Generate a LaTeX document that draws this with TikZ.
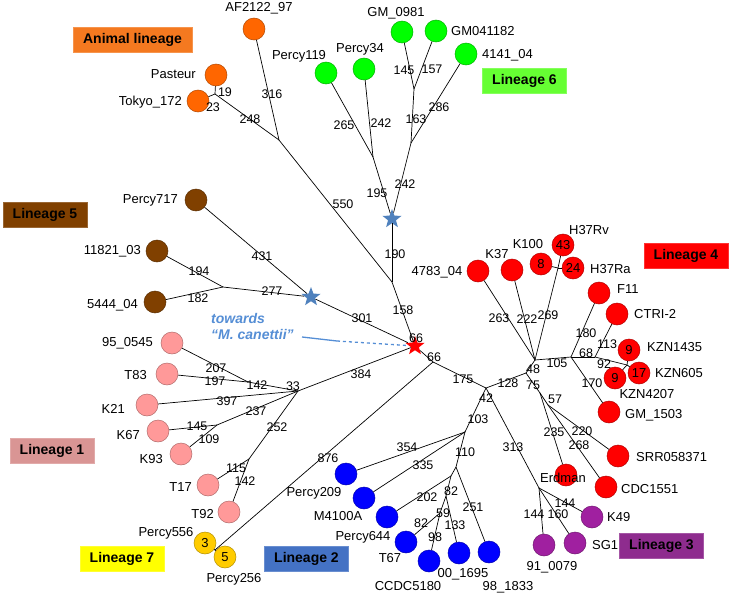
\documentclass[tikz,border=0pt]{standalone}
\usepackage{fontspec}
\setmainfont{Liberation Sans}
\usepackage{tikz}
\usetikzlibrary{shapes.geometric}

\definecolor{animalorange}{HTML}{FF6600}
\definecolor{animalbox}{HTML}{F47920}
\definecolor{sixgreen}{HTML}{00FF00}
\definecolor{sixbox}{HTML}{66FF33}
\definecolor{fivebrown}{HTML}{804000}
\definecolor{onepink}{HTML}{FF9999}
\definecolor{onebox}{HTML}{D99594}
\definecolor{sevenyellow}{HTML}{FFCC00}
\definecolor{sevenbox}{HTML}{FFFF00}
\definecolor{twoblue}{HTML}{0000FF}
\definecolor{twobox}{HTML}{4472C4}
\definecolor{threepurple}{HTML}{A020A0}
\definecolor{threebox}{HTML}{8E2C8E}
\definecolor{fourred}{HTML}{FF0000}
\definecolor{canblue}{HTML}{558ED5}
\definecolor{starblue}{HTML}{4F81BD}

\begin{document}
\begin{tikzpicture}[
    x=1pt, y=-1pt,
    leaf/.style={
        circle,
        draw=#1!70!black,
        fill=#1,
        minimum size=22pt,
        inner sep=0pt,
        line width=0.5pt,
        font=\fontsize{13}{15}\selectfont
    },
    taxon/.style={inner sep=1pt, font=\fontsize{13}{15}\selectfont},
    num/.style={inner sep=0pt, font=\fontsize{12.5}{14}\selectfont},
    lineage/.style={
        rectangle,
        fill=#1,
        draw=#1!80!white,
        minimum width=84pt,
        minimum height=25pt,
        font=\bfseries\fontsize{14}{16}\selectfont
    },
    hub/.style={
        star,
        star points=5,
        star point ratio=2.4,
        minimum size=20pt,
        inner sep=0pt,
        fill=#1
    },
    branch/.style={line width=0.7pt}
]
\useasboundingbox (0,0) rectangle (732,597);

% junctions
\coordinate (jAni) at (215,94);
\coordinate (jAF) at (279,140);
\coordinate (jL6) at (392,282);
\coordinate (jPercy) at (373,157);
\coordinate (jGM) at (414,89);
\coordinate (jGMb) at (411,143);
\coordinate (jL5) at (223,287);
\coordinate (jB) at (433,362);
\coordinate (jC) at (486,388);
\coordinate (jD) at (526,373);
\coordinate (jE) at (535,360);
\coordinate (jF) at (558,268);
\coordinate (jG) at (571,357);
\coordinate (jJ) at (595,357);
\coordinate (jK) at (627,365);
\coordinate (jH) at (540,393);
\coordinate (jI) at (548,405);
\coordinate (jL) at (539,488);
\coordinate (jM) at (465,432);
\coordinate (jN) at (456,467);
\coordinate (jO) at (451,476);
\coordinate (jQ) at (446,496);
\coordinate (jP) at (440,513);
\coordinate (jL1) at (298,391);
\coordinate (jA) at (248,382);
\coordinate (jKK) at (217,425);
\coordinate (jT) at (249,459);
\coordinate (jL7) at (215,550);
\coordinate (canA) at (302,337);
\coordinate (canB) at (337,341);

% stars
\node[hub=fourred] (root) at (415,346) {};
\node[hub=starblue] (starSix) at (392,219) {};
\node[hub=starblue] (starFive) at (311,297) {};

% animal lineage
\node[leaf=animalorange] (af) at (254,29) {};
\node[leaf=animalorange] (pasteur) at (216,75) {};
\node[leaf=animalorange] (tokyo) at (198,101) {};

% lineage 6
\node[leaf=sixgreen] (percy119) at (326,73) {};
\node[leaf=sixgreen] (percy34) at (364,69) {};
\node[leaf=sixgreen] (gm0981) at (402,32) {};
\node[leaf=sixgreen] (gm041182) at (436,31) {};
\node[leaf=sixgreen] (l4141) at (466,54) {};

% lineage 5
\node[leaf=fivebrown] (percy717) at (196,200) {};
\node[leaf=fivebrown] (s11821) at (157,251) {};
\node[leaf=fivebrown] (s5444) at (155,302) {};

% lineage 1
\node[leaf=onepink] (s950545) at (172,343) {};
\node[leaf=onepink] (t83) at (167,374) {};
\node[leaf=onepink] (k21) at (147,405) {};
\node[leaf=onepink] (k67) at (158,431) {};
\node[leaf=onepink] (k93) at (181,454) {};
\node[leaf=onepink] (t17) at (208,485) {};
\node[leaf=onepink] (t92) at (229,512) {};

% lineage 7
\node[leaf=sevenyellow] (percy556) at (205,543) {3};
\node[leaf=sevenyellow] (percy256) at (225,557) {5};

% lineage 2
\node[leaf=twoblue] (percy209) at (346,474) {};
\node[leaf=twoblue] (m4100a) at (364,498) {};
\node[leaf=twoblue] (percy644) at (387,517) {};
\node[leaf=twoblue] (t67) at (406,542) {};
\node[leaf=twoblue] (ccdc) at (429,561) {};
\node[leaf=twoblue] (s001695) at (459,553) {};
\node[leaf=twoblue] (s981833) at (489,552) {};

% lineage 3
\node[leaf=threepurple] (s910079) at (544,545) {};
\node[leaf=threepurple] (sg1) at (575,543) {};
\node[leaf=threepurple] (k49) at (592,517) {};

% lineage 4
\node[leaf=fourred] (s4783) at (478,271) {};
\node[leaf=fourred] (k37) at (512,270) {};
\node[leaf=fourred] (c8) at (541,264) {8};
\node[leaf=fourred] (c24) at (573,268) {24};
\node[leaf=fourred] (c43) at (563,245) {43};
\node[leaf=fourred] (f11) at (599,293) {};
\node[leaf=fourred] (ctri) at (617,314) {};
\node[leaf=fourred] (kzn1435) at (629,350) {9};
\node[leaf=fourred] (kzn4207) at (615,378) {9};
\node[leaf=fourred] (kzn605) at (639,373) {17};
\node[leaf=fourred] (gm1503) at (609,412) {};
\node[leaf=fourred] (srr) at (618,456) {};
\node[leaf=fourred] (cdc) at (606,487) {};
\node[leaf=fourred] (erdman) at (566,475) {};

% branches
\draw[branch] (pasteur) -- (jAni);
\draw[branch] (tokyo) -- (jAni);
\draw[branch] (jAni) -- (jAF);
\draw[branch] (af) -- (jAF);
\draw[branch] (jAF) -- (jL6);
\draw[branch] (gm0981) -- (jGM);
\draw[branch] (gm041182) -- (jGM);
\draw[branch] (jGM) -- (jGMb);
\draw[branch] (l4141) -- (jGMb);
\draw[branch] (jGMb) -- (starSix);
\draw[branch] (percy119) -- (jPercy);
\draw[branch] (percy34) -- (jPercy);
\draw[branch] (jPercy) -- (starSix);
\draw[branch] (starSix) -- (jL6);
\draw[branch] (jL6) -- (root);
\draw[branch] (percy717) -- (starFive);
\draw[branch] (s11821) -- (jL5);
\draw[branch] (s5444) -- (jL5);
\draw[branch] (jL5) -- (starFive);
\draw[branch] (starFive) -- (root);
\draw[branch] (s950545) -- (jA);
\draw[branch] (t83) -- (jA);
\draw[branch] (jA) -- (jL1);
\draw[branch] (k21) -- (jL1);
\draw[branch] (k67) -- (jKK);
\draw[branch] (k93) -- (jKK);
\draw[branch] (jKK) -- (jL1);
\draw[branch] (t17) -- (jT);
\draw[branch] (t92) -- (jT);
\draw[branch] (jT) -- (jL1);
\draw[branch] (jL1) -- (root);
\draw[branch] (percy556) -- (jL7);
\draw[branch] (percy256) -- (jL7);
\draw[branch] (jL7) -- (jB);
\draw[branch] (root) -- (jB);
\draw[branch] (jB) -- (jC);
\draw[branch] (jC) -- (jD);
\draw[branch] (jD) -- (jE);
\draw[branch] (jD) -- (jH);
\draw[branch] (jC) -- (jM);
\draw[branch] (jC) -- (jL);
\draw[branch] (s4783) -- (jE);
\draw[branch] (k37) -- (jE);
\draw[branch] (jE) -- (jF);
\draw[branch] (jF) -- (c8);
\draw[branch] (jF) -- (c24);
\draw[branch] (jF) -- (c43);
\draw[branch] (jE) -- (jG);
\draw[branch] (jG) -- (f11);
\draw[branch] (jG) -- (jJ);
\draw[branch] (jJ) -- (ctri);
\draw[branch] (jJ) -- (jK);
\draw[branch] (jK) -- (kzn1435);
\draw[branch] (jK) -- (kzn605);
\draw[branch] (jK) -- (kzn4207);
\draw[branch] (jG) -- (gm1503);
\draw[branch] (jH) -- (erdman);
\draw[branch] (jH) -- (jI);
\draw[branch] (jI) -- (srr);
\draw[branch] (jI) -- (cdc);
\draw[branch] (jL) -- (k49);
\draw[branch] (jL) -- (sg1);
\draw[branch] (jL) -- (s910079);
\draw[branch] (jM) -- (percy209);
\draw[branch] (jM) -- (m4100a);
\draw[branch] (jM) -- (jN);
\draw[branch] (jN) -- (s981833);
\draw[branch] (jN) -- (jO);
\draw[branch] (jO) -- (percy644);
\draw[branch] (jO) -- (jQ);
\draw[branch] (jQ) -- (s001695);
\draw[branch] (jQ) -- (jP);
\draw[branch] (jP) -- (t67);
\draw[branch] (jP) -- (ccdc);

% towards M. canettii
\draw[canblue, line width=1.3pt] (canA) -- (canB);
\draw[canblue, line width=1.3pt, dashed] (canB) -- (root);
\node[anchor=west, align=left, inner sep=0pt, text=canblue,
    font=\bfseries\itshape\fontsize{14}{16}\selectfont] (canettii) at (211,326)
    {towards\\“M. canettii”};

% taxon names
\node[taxon] (afname) at (259,8) {AF2122\_97};
\node[taxon, anchor=east] (pasteurname) at (197,74) {Pasteur};
\node[taxon, anchor=east] (tokyoname) at (183,102) {Tokyo\_172};
\node[taxon] (percy119name) at (299,56) {Percy119};
\node[taxon] (percy34name) at (360,49) {Percy34};
\node[taxon] (gm0981name) at (396,13) {GM\_0981};
\node[taxon, anchor=west] (gm041182name) at (450,31) {GM041182};
\node[taxon, anchor=west] (l4141name) at (481,55) {4141\_04};
\node[taxon, anchor=east] (percy717name) at (179,200) {Percy717};
\node[taxon, anchor=east] (s11821name) at (142,251) {11821\_03};
\node[taxon, anchor=east] (s5444name) at (139,305) {5444\_04};
\node[taxon, anchor=east] (s950545name) at (154,343) {95\_0545};
\node[taxon, anchor=east] (t83name) at (148,375) {T83};
\node[taxon, anchor=east] (k21name) at (126,409) {K21};
\node[taxon, anchor=east] (k67name) at (141,435) {K67};
\node[taxon, anchor=east] (k93name) at (164,459) {K93};
\node[taxon, anchor=east] (t17name) at (193,487) {T17};
\node[taxon, anchor=east] (t92name) at (215,514) {T92};
\node[taxon] (percy556name) at (166,533) {Percy556};
\node[taxon] (percy256name) at (234,579) {Percy256};
\node[taxon] (percy209name) at (314,493) {Percy209};
\node[taxon] (m4100aname) at (338,516) {M4100A};
\node[taxon] (percy644name) at (363,537) {Percy644};
\node[taxon] (t67name) at (390,558) {T67};
\node[taxon] (ccdcname) at (408,586) {CCDC5180};
\node[taxon] (s001695name) at (463,574) {00\_1695};
\node[taxon] (s981833name) at (508,587) {98\_1833};
\node[taxon] (s910079name) at (552,567) {91\_0079};
\node[taxon, anchor=west] (sg1name) at (591,545) {SG1};
\node[taxon, anchor=west] (k49name) at (606,517) {K49};
\node[taxon] (erdmanname) at (563,478) {Erdman};
\node[taxon, anchor=west] (cdcname) at (620,489) {CDC1551};
\node[taxon, anchor=west] (srrname) at (635,457) {SRR058371};
\node[taxon, anchor=west] (gm1503name) at (624,415) {GM\_1503};
\node[taxon] (kzn4207name) at (647,394) {KZN4207};
\node[taxon, anchor=west] (kzn605name) at (654,373) {KZN605};
\node[taxon, anchor=west] (kzn1435name) at (646,347) {KZN1435};
\node[taxon, anchor=west] (ctriname) at (633,314) {CTRI-2};
\node[taxon, anchor=west] (f11name) at (616,289) {F11};
\node[taxon, anchor=west] (c24name) at (589,269) {H37Ra};
\node[taxon] (c43name) at (589,230) {H37Rv};
\node[taxon] (c8name) at (528,244) {K100};
\node[taxon] (k37name) at (497,254) {K37};
\node[taxon] (s4783name) at (437,272) {4783\_04};

% branch lengths
\node[num] (b19) at (225,92) {19};
\node[num] (b23) at (213,107) {23};
\node[num] (b248) at (250,119) {248};
\node[num] (b316) at (272,94) {316};
\node[num] (b550) at (343,204) {550};
\node[num] (b265) at (344,125) {265};
\node[num] (b242a) at (381,123) {242};
\node[num] (b145a) at (404,70) {145};
\node[num] (b157) at (432,69) {157};
\node[num] (b163) at (416,119) {163};
\node[num] (b286) at (439,107) {286};
\node[num] (b195) at (377,193) {195};
\node[num] (b242b) at (405,184) {242};
\node[num] (b190) at (395,254) {190};
\node[num] (b158) at (403,310) {158};
\node[num] (b66a) at (416,338) {66};
\node[num] (b431) at (262,256) {431};
\node[num] (b194) at (199,271) {194};
\node[num] (b182) at (198,298) {182};
\node[num] (b277) at (272,291) {277};
\node[num] (b301) at (362,318) {301};
\node[num] (b207) at (216,368) {207};
\node[num] (b197) at (215,381) {197};
\node[num] (b142a) at (257,385) {142};
\node[num] (b33) at (293,386) {33};
\node[num] (b397) at (227,401) {397};
\node[num] (b145b) at (197,426) {145};
\node[num] (b109) at (209,439) {109};
\node[num] (b237) at (256,411) {237};
\node[num] (b115) at (236,468) {115};
\node[num] (b142b) at (245,481) {142};
\node[num] (b252) at (277,427) {252};
\node[num] (b384) at (361,374) {384};
\node[num] (b876) at (328,458) {876};
\node[num] (b66b) at (434,357) {66};
\node[num] (b175) at (463,379) {175};
\node[num] (b42) at (486,398) {42};
\node[num] (b128) at (508,383) {128};
\node[num] (b48) at (533,369) {48};
\node[num] (b263) at (499,318) {263};
\node[num] (b222) at (527,319) {222};
\node[num] (b269) at (548,315) {269};
\node[num] (b105) at (557,363) {105};
\node[num] (b180) at (586,333) {180};
\node[num] (b68) at (586,353) {68};
\node[num] (b113) at (607,344) {113};
\node[num] (b92) at (604,364) {92};
\node[num] (b170) at (592,383) {170};
\node[num] (b75) at (533,385) {75};
\node[num] (b57) at (555,399) {57};
\node[num] (b235) at (554,432) {235};
\node[num] (b220) at (582,431) {220};
\node[num] (b268) at (579,445) {268};
\node[num] (b313) at (513,447) {313};
\node[num] (b144a) at (565,503) {144};
\node[num] (b160) at (558,514) {160};
\node[num] (b144b) at (534,514) {144};
\node[num] (b103) at (478,419) {103};
\node[num] (b354) at (407,447) {354};
\node[num] (b335) at (423,465) {335};
\node[num] (b110) at (465,452) {110};
\node[num] (b251) at (473,507) {251};
\node[num] (b202) at (427,497) {202};
\node[num] (b82a) at (451,491) {82};
\node[num] (b59) at (443,513) {59};
\node[num] (b82b) at (421,523) {82};
\node[num] (b98) at (435,537) {98};
\node[num] (b133) at (455,525) {133};

% lineage boxes
\node[lineage=animalbox, minimum width=119pt] (animal) at (132.5,40) {Animal lineage};
\node[lineage=sixbox] (linsix) at (524.5,80.5) {Lineage 6};
\node[lineage=fivebrown] (linfive) at (45,214.5) {Lineage 5};
\node[lineage=onebox] (linone) at (52,450.5) {Lineage 1};
\node[lineage=sevenbox] (linseven) at (122,559) {Lineage 7};
\node[lineage=twobox] (lintwo) at (306.5,559) {Lineage 2};
\node[lineage=threebox] (linthree) at (661.5,545.5) {Lineage 3};
\node[lineage=fourred] (linfour) at (686,256) {Lineage 4};

\end{tikzpicture}
\end{document}
